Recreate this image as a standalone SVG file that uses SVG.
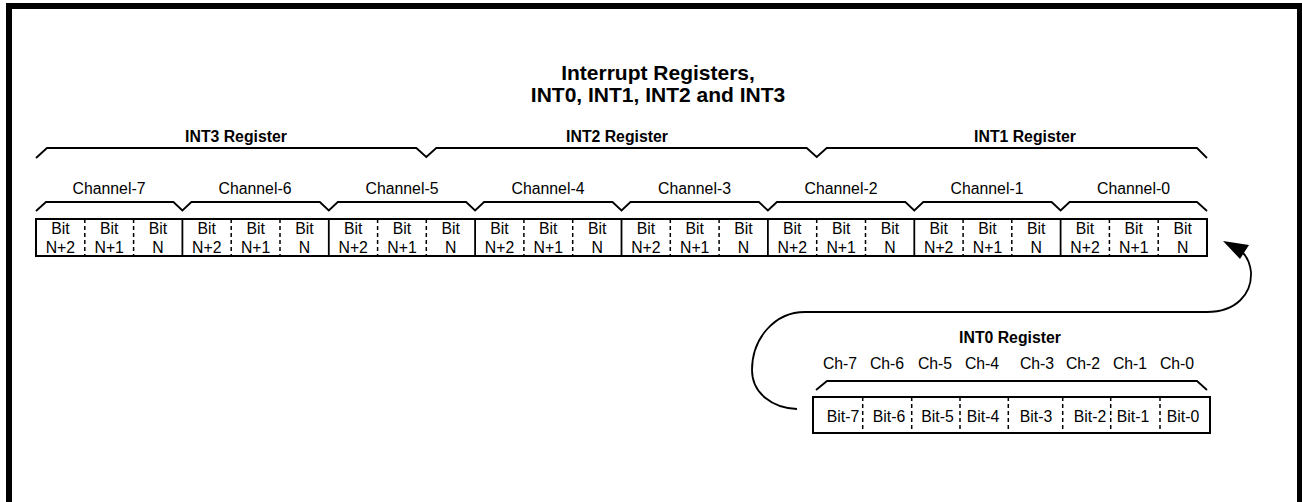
<svg xmlns="http://www.w3.org/2000/svg" width="1302" height="502" viewBox="0 0 1302 502">
<style>
text{font-family:"Liberation Sans",Arial,sans-serif;fill:#000;text-anchor:middle}
.t{font-size:21px;font-weight:bold}
.b{font-size:15.8px;font-weight:bold}
.r{font-size:15.8px}
.ln{fill:none;stroke:#000;stroke-width:1.8}
.cell{fill:#fff;stroke:#000;stroke-width:2}
.sd{stroke:#000;stroke-width:1.8}
.dd{stroke:#000;stroke-width:1.5;stroke-dasharray:4 3}
</style>
<rect x="9" y="6" width="1291" height="520" fill="#fff" stroke="#000" stroke-width="6"/>
<g id="title">
<text class="t" x="658" y="80">Interrupt Registers,</text>
<text class="t" x="658" y="102">INT0, INT1, INT2 and INT3</text>
</g>
<g id="int-braces">
<text class="b" x="236" y="141.5">INT3 Register</text>
<text class="b" x="617" y="141.5">INT2 Register</text>
<text class="b" x="1025" y="141.5">INT1 Register</text>
<path class="ln" d="M36,158 L47,148 H416.3 L426.3,157 L436.3,148 H806.7 L816.7,157 L826.7,148 H1197 L1207,158"/>
</g>
<g id="channel-braces">
<text class="r" x="109" y="193.5">Channel-7</text>
<text class="r" x="255" y="193.5">Channel-6</text>
<text class="r" x="402" y="193.5">Channel-5</text>
<text class="r" x="548" y="193.5">Channel-4</text>
<text class="r" x="694.5" y="193.5">Channel-3</text>
<text class="r" x="841" y="193.5">Channel-2</text>
<text class="r" x="987" y="193.5">Channel-1</text>
<text class="r" x="1133.5" y="193.5">Channel-0</text>
<path class="ln" d="M36,211 L46,202 H173.4 L182.4,210.5 L191.4,202 H319.8 L328.8,210.5 L337.8,202 H466.1 L475.1,210.5 L484.1,202 H612.5 L621.5,210.5 L630.5,202 H758.9 L767.9,210.5 L776.9,202 H905.3 L914.3,210.5 L923.3,202 H1051.6 L1060.6,210.5 L1069.6,202 H1197 L1207,211"/>
</g>
<g id="int-table">
<rect class="cell" x="36" y="219" width="1171" height="37"/>
<g class="sd">
<line x1="182.4" y1="219" x2="182.4" y2="256"/>
<line x1="328.8" y1="219" x2="328.8" y2="256"/>
<line x1="475.1" y1="219" x2="475.1" y2="256"/>
<line x1="621.5" y1="219" x2="621.5" y2="256"/>
<line x1="767.9" y1="219" x2="767.9" y2="256"/>
<line x1="914.3" y1="219" x2="914.3" y2="256"/>
<line x1="1060.6" y1="219" x2="1060.6" y2="256"/>
</g>
<g class="dd">
<line x1="84.8" y1="219" x2="84.8" y2="256"/><line x1="133.6" y1="219" x2="133.6" y2="256"/>
<line x1="231.2" y1="219" x2="231.2" y2="256"/><line x1="280" y1="219" x2="280" y2="256"/>
<line x1="377.6" y1="219" x2="377.6" y2="256"/><line x1="426.3" y1="219" x2="426.3" y2="256"/>
<line x1="523.9" y1="219" x2="523.9" y2="256"/><line x1="572.7" y1="219" x2="572.7" y2="256"/>
<line x1="670.3" y1="219" x2="670.3" y2="256"/><line x1="719.1" y1="219" x2="719.1" y2="256"/>
<line x1="816.7" y1="219" x2="816.7" y2="256"/><line x1="865.5" y1="219" x2="865.5" y2="256"/>
<line x1="963.1" y1="219" x2="963.1" y2="256"/><line x1="1011.8" y1="219" x2="1011.8" y2="256"/>
<line x1="1109.4" y1="219" x2="1109.4" y2="256"/><line x1="1158.2" y1="219" x2="1158.2" y2="256"/>
</g>
<g class="r">
<text x="60.4" y="234">Bit</text><text x="109.2" y="234">Bit</text><text x="158" y="234">Bit</text>
<text x="60.4" y="253">N+2</text><text x="109.2" y="253">N+1</text><text x="158" y="253">N</text>
<text x="206.8" y="234">Bit</text><text x="255.6" y="234">Bit</text><text x="304.4" y="234">Bit</text>
<text x="206.8" y="253">N+2</text><text x="255.6" y="253">N+1</text><text x="304.4" y="253">N</text>
<text x="353.2" y="234">Bit</text><text x="402" y="234">Bit</text><text x="450.7" y="234">Bit</text>
<text x="353.2" y="253">N+2</text><text x="402" y="253">N+1</text><text x="450.7" y="253">N</text>
<text x="499.5" y="234">Bit</text><text x="548.3" y="234">Bit</text><text x="597.1" y="234">Bit</text>
<text x="499.5" y="253">N+2</text><text x="548.3" y="253">N+1</text><text x="597.1" y="253">N</text>
<text x="645.9" y="234">Bit</text><text x="694.7" y="234">Bit</text><text x="743.5" y="234">Bit</text>
<text x="645.9" y="253">N+2</text><text x="694.7" y="253">N+1</text><text x="743.5" y="253">N</text>
<text x="792.3" y="234">Bit</text><text x="841.1" y="234">Bit</text><text x="889.9" y="234">Bit</text>
<text x="792.3" y="253">N+2</text><text x="841.1" y="253">N+1</text><text x="889.9" y="253">N</text>
<text x="938.7" y="234">Bit</text><text x="987.5" y="234">Bit</text><text x="1036.2" y="234">Bit</text>
<text x="938.7" y="253">N+2</text><text x="987.5" y="253">N+1</text><text x="1036.2" y="253">N</text>
<text x="1085" y="234">Bit</text><text x="1133.8" y="234">Bit</text><text x="1182.6" y="234">Bit</text>
<text x="1085" y="253">N+2</text><text x="1133.8" y="253">N+1</text><text x="1182.6" y="253">N</text>
</g>
</g>
<g id="int0-register">
<text class="b" x="1010" y="342.5">INT0 Register</text>
<g class="r">
<text x="840" y="369">Ch-7</text><text x="887" y="369">Ch-6</text><text x="935" y="369">Ch-5</text><text x="982" y="369">Ch-4</text>
<text x="1037" y="369">Ch-3</text><text x="1083" y="369">Ch-2</text><text x="1130" y="369">Ch-1</text><text x="1177" y="369">Ch-0</text>
</g>
<path class="ln" d="M816,390 L827,381 H1197 L1207,390"/>
<rect class="cell" x="813" y="397" width="397" height="36"/>
<g class="dd">
<line x1="862.7" y1="397" x2="862.7" y2="433"/><line x1="911.7" y1="397" x2="911.7" y2="433"/>
<line x1="960" y1="397" x2="960" y2="433"/><line x1="1008.3" y1="397" x2="1008.3" y2="433"/>
<line x1="1062.7" y1="397" x2="1062.7" y2="433"/><line x1="1110.7" y1="397" x2="1110.7" y2="433"/>
<line x1="1160" y1="397" x2="1160" y2="433"/>
</g>
<g class="r">
<text x="843" y="422">Bit-7</text><text x="889" y="422">Bit-6</text><text x="937.5" y="422">Bit-5</text><text x="983" y="422">Bit-4</text>
<text x="1036" y="422">Bit-3</text><text x="1090" y="422">Bit-2</text><text x="1133" y="422">Bit-1</text><text x="1183" y="422">Bit-0</text>
</g>
</g>
<g id="connectors">
<path class="ln" d="M797,409 C772,408 752,393 752,370 C752,338 775,312 805,312 H1207 C1236,312 1252,294 1251,272 C1250,264 1248,258 1243,253"/>
<polygon points="1223,241 1249,245 1240,259" fill="#000"/>
</g>
</svg>
